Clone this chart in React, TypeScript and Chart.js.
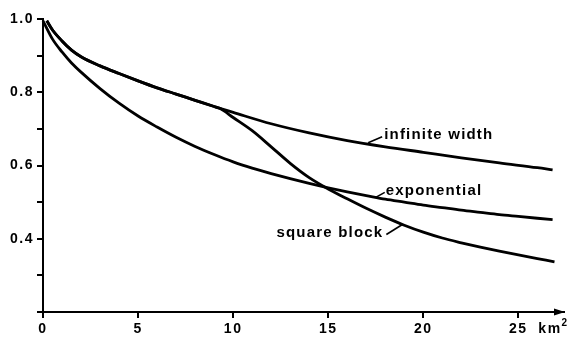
import React, { useEffect, useRef } from 'react';
import { Chart, registerables } from 'chart.js';

Chart.register(...registerables);

// ---- data ----
const infiniteX = [0.2, 0.5, 1, 1.5, 2, 3, 4, 5, 6, 7, 8, 9, 9.3, 10, 12, 14, 16, 18, 20, 22, 24, 26, 26.8];
const infiniteY = [0.995, 0.97, 0.94, 0.915, 0.897, 0.872, 0.851, 0.831, 0.812, 0.795, 0.778, 0.761, 0.756, 0.745, 0.714, 0.689, 0.668, 0.651, 0.636, 0.621, 0.607, 0.594, 0.588];

const squareX = [0.2, 0.5, 1, 1.5, 2, 3, 4, 5, 6, 7, 8, 9, 9.3, 10, 11, 12, 13, 14, 15, 16, 17, 18, 19, 20, 21, 22, 23, 24, 25, 26, 26.9];
const squareY = [0.995, 0.97, 0.94, 0.915, 0.897, 0.872, 0.851, 0.831, 0.812, 0.795, 0.778, 0.761, 0.756, 0.731, 0.695, 0.651, 0.606, 0.567, 0.536, 0.509, 0.483, 0.459, 0.437, 0.418, 0.402, 0.389, 0.377, 0.366, 0.356, 0.346, 0.337];

const expX = [0, 0.5, 1, 1.5, 2, 3, 4, 5, 6, 7, 8, 9, 10, 11, 12, 13, 14, 15, 16, 17, 18, 19, 20, 21, 22, 23, 24, 25, 26, 26.8];
const expY = [0.995, 0.945, 0.91, 0.88, 0.855, 0.81, 0.77, 0.735, 0.705, 0.677, 0.652, 0.63, 0.61, 0.593, 0.578, 0.564, 0.551, 0.539, 0.528, 0.518, 0.508, 0.5, 0.492, 0.485, 0.478, 0.472, 0.466, 0.461, 0.456, 0.452];

const xTickStep = 5;
const yLabelValues = [0.4, 0.6, 0.8, 1.0];
const xUnit = 'km';
const xUnitSup = '2';

const curveLabels = [
  { text: 'infinite width', x: 17.1, y: 0.662 },
  { text: 'exponential', x: 17.5, y: 0.513 },
  { text: 'square block', x: 18.9, y: 0.439 },
];

// ---- styles ----
const FONT_FAMILY = '"Liberation Sans", Arial, Helvetica, sans-serif';
const LETTER_SPACING = '1.5px';
const LABEL_SPACING = '1.2px';
// leader-line / text offsets in pixels for each curve label
const labelStyle = [
  { lx: 14, ly: -6, tx: 16, ty: -8, align: 'left' },
  { lx: 9, ly: -5, tx: 10, ty: -7, align: 'left' },
  { lx: -16, ly: 10, tx: -19, ty: 8, align: 'right' },
];

const toPoints = (xs: number[], ys: number[]) => xs.map((x, i) => ({ x, y: ys[i] }));

const decorPlugin = {
  id: 'decor',
  beforeUpdate(chart: any) {
    chart.ctx.letterSpacing = LETTER_SPACING;
  },
  beforeDraw(chart: any) {
    chart.ctx.letterSpacing = LETTER_SPACING;
  },
  afterDraw(chart: any) {
    const { ctx, chartArea } = chart;
    const xs = chart.scales.x;
    const ys = chart.scales.y;
    ctx.save();
    ctx.letterSpacing = LETTER_SPACING;
    ctx.fillStyle = '#000';
    ctx.strokeStyle = '#000';

    // arrow head on x axis
    const ay = chartArea.bottom;
    const ax = chartArea.right;
    ctx.beginPath();
    ctx.moveTo(ax + 1, ay);
    ctx.lineTo(ax - 10, ay - 3.5);
    ctx.lineTo(ax - 10, ay + 3.5);
    ctx.closePath();
    ctx.fill();

    // unit label km^2
    const lastTick = Math.floor(xs.max / xTickStep) * xTickStep;
    const ux = xs.getPixelForValue(lastTick) + 20;
    const uy = chartArea.bottom + 6 + 3;
    ctx.font = `bold 14px ${FONT_FAMILY}`;
    ctx.textBaseline = 'top';
    ctx.textAlign = 'left';
    ctx.fillText(xUnit, ux, uy + 1);
    const w = ctx.measureText(xUnit).width;
    ctx.font = `bold 10px ${FONT_FAMILY}`;
    ctx.fillText(xUnitSup, ux + w, uy - 3);

    // curve labels with leader lines
    ctx.letterSpacing = LABEL_SPACING;
    ctx.font = `bold 15px ${FONT_FAMILY}`;
    ctx.textBaseline = 'middle';
    ctx.lineWidth = 1.6;
    curveLabels.forEach((lab, i) => {
      const st = labelStyle[i];
      const px = xs.getPixelForValue(lab.x);
      const py = ys.getPixelForValue(lab.y);
      ctx.beginPath();
      ctx.moveTo(px, py);
      ctx.lineTo(px + st.lx, py + st.ly);
      ctx.stroke();
      ctx.textAlign = st.align;
      ctx.fillText(lab.text, px + st.tx, py + st.ty);
    });
    ctx.restore();
  },
};

export default function App() {
  const ref = useRef<HTMLCanvasElement | null>(null);

  useEffect(() => {
    document.body.style.margin = '0';
    const canvas = ref.current;
    if (!canvas) return;
    const lineDs = (data: any[]) => ({
      data,
      borderColor: '#000',
      borderWidth: 2.8,
      pointRadius: 0,
      fill: false,
      cubicInterpolationMode: 'monotone' as const,
      clip: false as any,
    });
    const chart = new Chart(canvas, {
      type: 'line',
      data: {
        datasets: [
          { label: 'infinite width', ...lineDs(toPoints(infiniteX, infiniteY)) },
          { label: 'square block', ...lineDs(toPoints(squareX, squareY)) },
          { label: 'exponential', ...lineDs(toPoints(expX, expY)) },
        ],
      },
      options: {
        animation: false,
        responsive: false,
        devicePixelRatio: 1,
        layout: { padding: { top: 19, right: 4, left: 0, bottom: 0 } },
        plugins: { legend: { display: false }, tooltip: { enabled: false } },
        scales: {
          x: {
            type: 'linear',
            min: 0,
            max: 27.4,
            afterFit: (s: any) => { s.height = 25; },
            border: { display: true, color: '#000', width: 2 },
            grid: { display: true, drawOnChartArea: false, drawTicks: true, tickLength: 6, color: '#000', lineWidth: 2 },
            ticks: {
              stepSize: xTickStep,
              includeBounds: false,
              color: '#000',
              padding: 3,
              maxRotation: 0,
              font: { family: FONT_FAMILY, size: 14, weight: 'bold' },
              callback: (v: any) => String(v),
            },
          },
          y: {
            type: 'linear',
            min: 0.2,
            max: 1.0,
            afterFit: (s: any) => { s.width = 43; },
            border: { display: true, color: '#000', width: 2 },
            grid: { display: true, drawOnChartArea: false, drawTicks: true, tickLength: 6, color: '#000', lineWidth: 2 },
            ticks: {
              stepSize: 0.1,
              color: '#000',
              padding: 3,
              font: { family: FONT_FAMILY, size: 14, weight: 'bold' },
              callback: (v: any) => (yLabelValues.some((l) => Math.abs(l - Number(v)) < 1e-6) ? Number(v).toFixed(1) : ''),
            },
          },
        },
      },
      plugins: [decorPlugin],
    });
    return () => chart.destroy();
  }, []);

  return (
    <canvas
      ref={ref}
      width={568}
      height={337}
      style={{ position: 'absolute', left: 0, top: 0, width: 568, height: 337, display: 'block' }}
    />
  );
}
